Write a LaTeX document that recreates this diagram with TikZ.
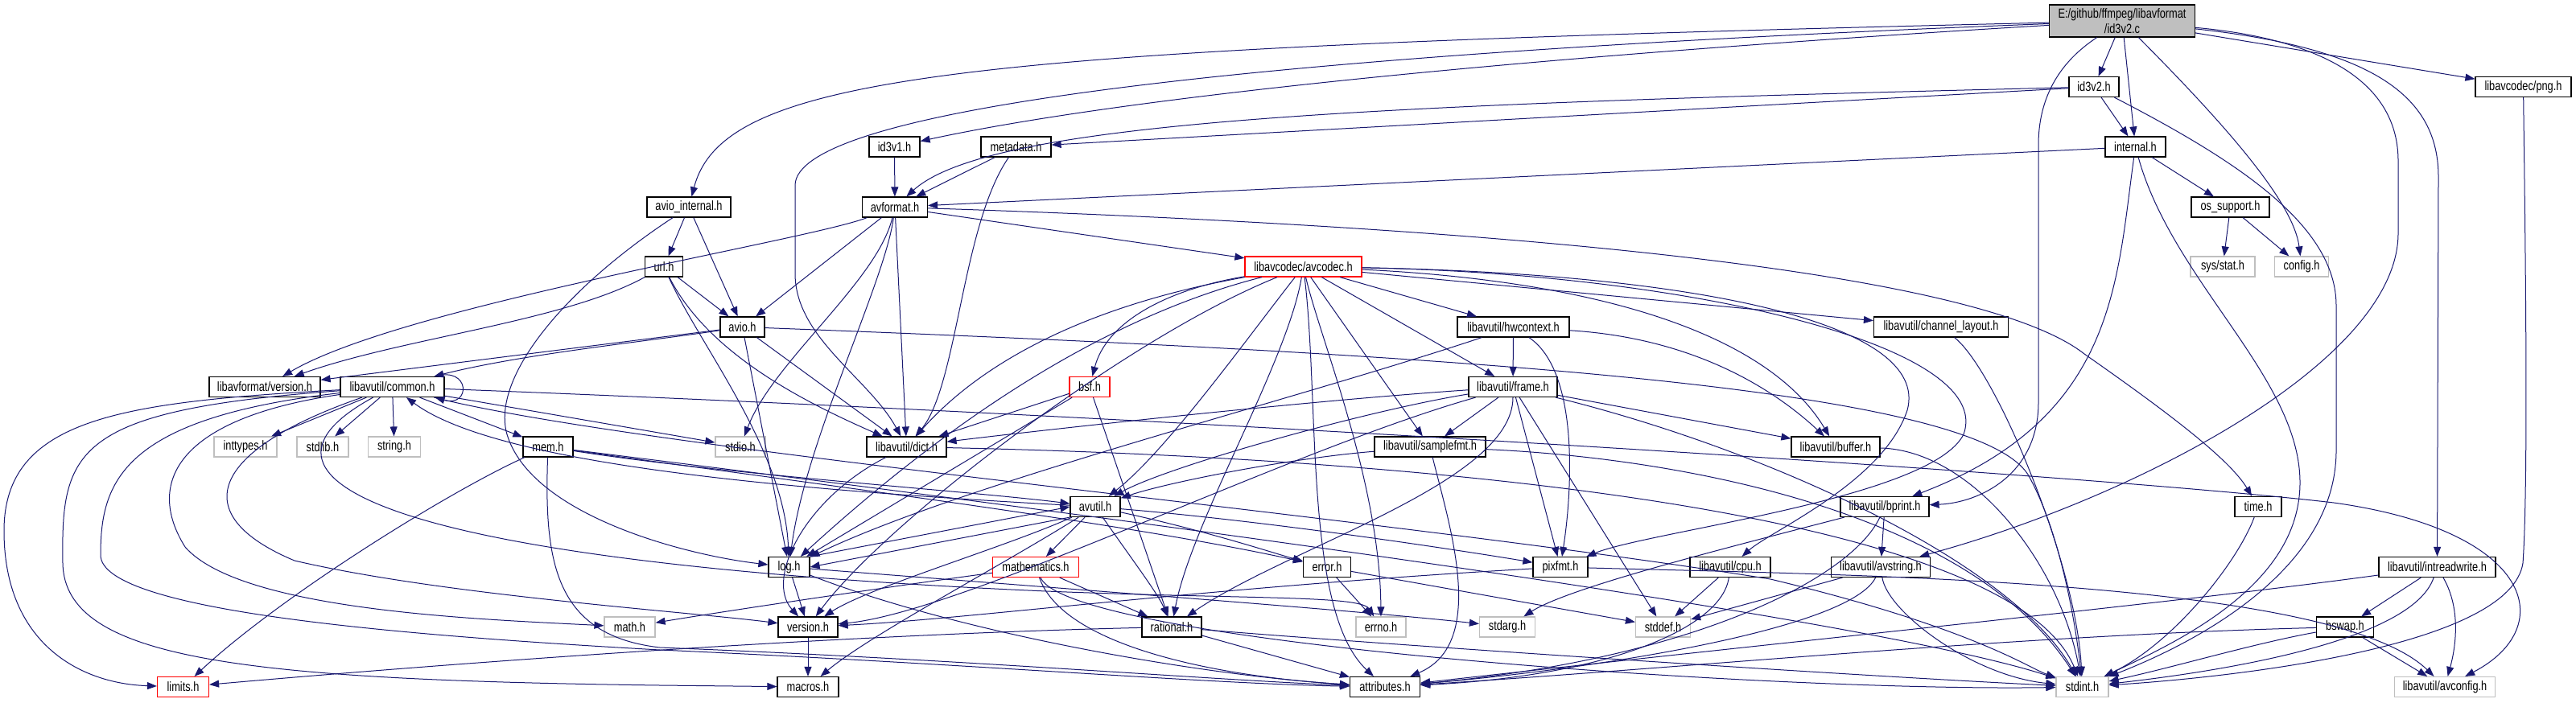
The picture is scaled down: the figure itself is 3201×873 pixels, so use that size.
\documentclass[tikz,border=0pt]{standalone}
\usepackage{fontspec}
\newfontfamily\nf[FakeStretch=0.78]{Liberation Sans}
\usetikzlibrary{arrows.meta}
\definecolor{edgeblue}{RGB}{25,25,112}
\definecolor{lgray}{RGB}{191,191,191}
\tikzset{
  bx/.style={draw=black, line width=1.2pt, fill=white, minimum height=25pt, inner sep=0pt, font=\nf\fontsize{16.4}{19}\selectfont},
  gbx/.style={bx, draw=lgray},
  rbx/.style={bx, draw=red},
  ed/.style={draw=edgeblue, line width=1pt, -{Triangle[length=12pt,width=9pt]}}
}
\begin{document}
\begin{tikzpicture}[x=1pt,y=-1pt]
\useasboundingbox[fill=white] (0,0) rectangle (3201,873);
% nodes
\node[bx, fill=lgray, minimum width=181, minimum height=40, align=center] (root) at (2637,26) {E:/github/ffmpeg/libavformat\\/id3v2.c};
\node[bx, minimum width=62] (id3v2h) at (2602,108) {id3v2.h};
\node[bx, minimum width=75] (internal) at (2653.5,182.5) {internal.h};
\node[bx, minimum width=97] (ossupport) at (2771.5,257.5) {os\_support.h};
\node[gbx, minimum width=80] (sysstat) at (2762,331.5) {sys/stat.h};
\node[gbx, minimum width=67] (config) at (2860,331.5) {config.h};
\node[bx, minimum width=119] (png) at (3135.5,108) {libavcodec/png.h};
\node[bx, minimum width=63] (id3v1) at (1111.5,182.5) {id3v1.h};
\node[bx, minimum width=87] (metadata) at (1262.5,182.5) {metadata.h};
\node[bx, minimum width=104] (aviointernal) at (856,257.5) {avio\_internal.h};
\node[bx, minimum width=81] (avformat) at (1112,257.5) {avformat.h};
\node[bx, minimum width=47] (url) at (825,331.5) {url.h};
\node[rbx, minimum width=145] (avcodec) at (1619.5,331.5) {libavcodec/avcodec.h};
\node[bx, minimum width=55] (avio) at (922.5,406.5) {avio.h};
\node[bx, minimum width=139] (hwcontext) at (1880.5,406.5) {libavutil/hwcontext.h};
\node[bx, minimum width=167] (chlayout) at (2412,406.5) {libavutil/channel\_layout.h};
\node[bx, minimum width=138] (lfversion) at (329,481) {libavformat/version.h};
\node[bx, minimum width=129] (common) at (487.5,481) {libavutil/common.h};
\node[rbx, minimum width=50] (bsf) at (1354,481) {bsf.h};
\node[bx, minimum width=110] (frame) at (1880,481) {libavutil/frame.h};
\node[gbx, minimum width=78] (inttypes) at (305,555.5) {inttypes.h};
\node[gbx, minimum width=64] (stdlib) at (401,555.5) {stdlib.h};
\node[gbx, minimum width=65] (string) at (490,555.5) {string.h};
\node[bx, minimum width=62] (mem) at (681,555.5) {mem.h};
\node[gbx, minimum width=62] (stdio) at (920,555.5) {stdio.h};
\node[bx, minimum width=99] (dict) at (1126.5,555.5) {libavutil/dict.h};
\node[bx, minimum width=138] (samplefmt) at (1777,555.5) {libavutil/samplefmt.h};
\node[bx, minimum width=110] (buffer) at (2281,555.5) {libavutil/buffer.h};
\node[bx, minimum width=62] (avutil) at (1361,630) {avutil.h};
\node[bx, minimum width=110] (bprint) at (2342,630) {libavutil/bprint.h};
\node[bx, minimum width=58] (timeh) at (2806,630) {time.h};
\node[bx, minimum width=51] (log) at (980.5,705) {log.h};
\node[rbx, minimum width=107] (mathematics) at (1287,705) {mathematics.h};
\node[bx, minimum width=59] (error) at (1649,705) {error.h};
\node[bx, minimum width=68] (pixfmt) at (1939,705) {pixfmt.h};
\node[bx, minimum width=100] (cpu) at (2150,705) {libavutil/cpu.h};
\node[bx, minimum width=123] (avstring) at (2337,705) {libavutil/avstring.h};
\node[bx, minimum width=145] (intreadwrite) at (3028.5,705) {libavutil/intreadwrite.h};
\node[gbx, minimum width=63] (math) at (782.5,779.5) {math.h};
\node[bx, minimum width=74] (version) at (1004,779.5) {version.h};
\node[bx, minimum width=74] (rational) at (1456,779.5) {rational.h};
\node[gbx, minimum width=62] (errno) at (1716,779.5) {errno.h};
\node[gbx, minimum width=69] (stdarg) at (1873,779.5) {stdarg.h};
\node[gbx, minimum width=68] (stddef) at (2066.5,779.5) {stddef.h};
\node[bx, minimum width=71] (bswap) at (2914,779.5) {bswap.h};
\node[rbx, minimum width=64] (limits) at (227.5,854) {limits.h};
\node[bx, minimum width=76] (macros) at (1004,854) {macros.h};
\node[bx, minimum width=87] (attributes) at (1721,854) {attributes.h};
\node[gbx, minimum width=65] (stdint) at (2587.5,854) {stdint.h};
\node[gbx, minimum width=125] (avconfig) at (3038,854) {libavutil/avconfig.h};

% root edges
\draw[ed] (root) -- (id3v2h);
\draw[ed] (root) -- (internal);
\draw[ed] (root) -- (png);
\draw[ed] (root) .. controls (2760,150) and (2850,250) .. (config);
\draw[ed] (root) .. controls (1200,60) and (900,90) .. (aviointernal);
\draw[ed] (root) .. controls (1500,70) and (990,140) .. (988,230) -- (988,340) .. controls (988,420) and (1080,470) .. (dict);
\draw[ed] (root) .. controls (1900,70) and (1400,120) .. (id3v1);
\draw[ed] (root) .. controls (2950,60) and (3030,120) .. (3030,220) -- (intreadwrite);
\draw[ed] (root) .. controls (2900,50) and (2980,110) .. (2980,200) -- (2980,290) .. controls (2980,450) and (2650,620) .. (avstring);
\draw[ed] (root) .. controls (2570,70) and (2533,110) .. (2533,180) -- (2533,500) .. controls (2533,590) and (2460,625) .. (bprint);
% id3v2.h
\draw[ed] (id3v2h) -- (internal);
\draw[ed] (id3v2h) .. controls (1700,130) and (1230,150) .. (avformat);
\draw[ed] (id3v2h) -- (metadata);
\draw[ed] (id3v2h) .. controls (2780,200) and (2903,280) .. (2903,380) -- (2903,560) .. controls (2903,720) and (2700,810) .. (stdint);
% internal.h
\draw[ed] (internal) -- (avformat);
\draw[ed] (internal) -- (ossupport);
\draw[ed] (internal) .. controls (2630,350) and (2630,520) .. (bprint);
\draw[ed] (internal) .. controls (2700,350) and (2858,470) .. (2858,600) .. controls (2858,730) and (2700,800) .. (stdint);
\draw[ed] (ossupport) -- (sysstat);
\draw[ed] (ossupport) -- (config);
\draw[ed] (png) .. controls (3138,300) and (3142,600) .. (3135,700) .. controls (3120,800) and (2800,840) .. (stdint);
\draw[ed] (id3v1) -- (avformat);
\draw[ed] (metadata) -- (avformat);
\draw[ed] (metadata) .. controls (1195,280) and (1190,480) .. (dict);
% avio_internal.h
\draw[ed] (aviointernal) -- (avio);
\draw[ed] (aviointernal) -- (url);
\draw[ed] (aviointernal) .. controls (700,360) and (610,470) .. (630,540) .. controls (660,640) and (850,690) .. (log);
% url.h
\draw[ed] (url) -- (avio);
\draw[ed] (url) .. controls (700,400) and (500,420) .. (lfversion);
\draw[ed] (url) .. controls (870,430) and (975,560) .. (log);
\draw[ed] (url) .. controls (880,440) and (1000,500) .. (dict);
% avformat.h
\draw[ed] (avformat) -- (avcodec);
\draw[ed] (avformat) -- (avio);
\draw[ed] (avformat) .. controls (1000,300) and (500,380) .. (lfversion);
\draw[ed] (avformat) .. controls (1090,350) and (960,450) .. (stdio);
\draw[ed] (avformat) -- (dict);
\draw[ed] (avformat) .. controls (1100,350) and (1000,550) .. (log);
\draw[ed] (avformat) .. controls (1800,280) and (2450,330) .. (2590,440) .. controls (2690,510) and (2770,570) .. (timeh);
% avio.h
\draw[ed] (avio) -- (lfversion);
\draw[ed] (avio) .. controls (800,425) and (650,440) .. (common);
\draw[ed] (avio) -- (dict);
\draw[ed] (avio) -- (log);
\draw[ed] (avio) .. controls (1800,440) and (2450,480) .. (2520,590) .. controls (2560,660) and (2580,780) .. (stdint);
% common.h
\draw[ed] ([xshift=-12]common.north east) .. controls (585,455) and (585,507) .. ([xshift=-12]common.south east);
\draw[ed] (common) -- (inttypes);
\draw[ed] (common) -- (stdlib);
\draw[ed] (common) -- (string);
\draw[ed] (common) -- (mem);
\draw[ed] (common) -- (stdio);
\draw[ed] (common) .. controls (150,500) and (5,520) .. (5,660) .. controls (5,800) and (100,850) .. (limits);
\draw[ed] (common) .. controls (90,510) and (76,560) .. (78,700) .. controls (80,820) and (300,845) .. (820,852) -- (macros);
\draw[ed] (common) .. controls (150,520) and (125,600) .. (125,690) .. controls (125,760) and (500,790) .. (820,808) .. controls (1200,825) and (1500,850) .. (attributes);
\draw[ed] (common) .. controls (220,520) and (180,600) .. (230,680) .. controls (300,760) and (600,770) .. (math);
\draw[ed] (common) .. controls (260,560) and (230,640) .. (366,697) .. controls (550,740) and (850,760) .. (version);
\draw[ed] (common) .. controls (270,600) and (500,700) .. (1300,735) .. controls (1550,745) and (1690,740) .. (errno);
\draw[ed] (common) .. controls (800,560) and (1700,640) .. (2200,720) .. controls (2450,780) and (2520,830) .. (stdint);
\draw[ed] (common) .. controls (1500,520) and (2600,590) .. (2900,625) .. controls (3150,660) and (3180,780) .. (avconfig);
% mem.h
\draw[ed] (mem) .. controls (560,610) and (350,740) .. (limits);
\draw[ed] (mem) .. controls (676,700) and (690,790) .. (820,805) .. controls (1200,820) and (1500,845) .. (attributes);
\draw[ed] (mem) .. controls (900,590) and (1200,610) .. (avutil);
\draw[ed] (mem) .. controls (1000,600) and (1400,650) .. (error);
\draw[ed] (mem) .. controls (1200,620) and (2300,760) .. (stdint);
% dict.h
\draw[ed] (dict) .. controls (1000,620) and (950,720) .. (version);
\draw[ed] (dict) .. controls (1800,570) and (2500,640) .. (stdint);
% log.h
\draw[ed] (log) -- (version);
\draw[ed] (log.north east) -- (avutil.west);
\draw[ed] (avutil.south west) -- (log.east);
\draw[ed] (log) .. controls (1300,730) and (1700,760) .. (stdarg);
\draw[ed] (log) .. controls (1200,790) and (1500,840) .. (attributes);
% avutil.h
\draw[ed] (avutil) .. controls (1000,610) and (620,580) .. (common);
\draw[ed] (avutil) -- (mathematics);
\draw[ed] (avutil) .. controls (1410,700) and (1440,740) .. (rational);
\draw[ed] (avutil) .. controls (1250,680) and (1080,730) .. (version);
\draw[ed] (avutil) .. controls (1250,700) and (1080,790) .. (macros);
\draw[ed] (avutil) .. controls (1500,660) and (1590,690) .. (error);
\draw[ed] (avutil) .. controls (1600,650) and (1850,690) .. (pixfmt);
% mathematics.h
\draw[ed] (mathematics) .. controls (1100,730) and (900,760) .. (math);
\draw[ed] (mathematics) -- (rational);
\draw[ed] (mathematics) .. controls (1320,800) and (1500,840) .. (attributes);
\draw[ed] (mathematics) .. controls (1330,800) and (2200,860) .. (stdint);
% rational.h
\draw[ed] (rational) .. controls (1000,790) and (500,830) .. (limits);
\draw[ed] (rational) -- (attributes);
\draw[ed] (rational) .. controls (1700,800) and (2300,840) .. (stdint);
\draw[ed] (version) -- (macros);
% error.h
\draw[ed] (error) -- (errno);
\draw[ed] (error) -- (stddef);
% pixfmt.h
\draw[ed] (pixfmt) .. controls (1500,730) and (1200,770) .. (version);
\draw[ed] (pixfmt) .. controls (2300,715) and (2900,720) .. (avconfig);
% frame.h
\draw[ed] (frame) -- (samplefmt);
\draw[ed] (frame) -- (pixfmt);
\draw[ed] (frame) -- (stddef);
\draw[ed] (frame) -- (buffer);
\draw[ed] (frame) .. controls (1600,500) and (1250,540) .. (dict);
\draw[ed] (frame) .. controls (1700,510) and (1450,580) .. (avutil);
\draw[ed] (frame) .. controls (1880,600) and (1600,680) .. (rational);
\draw[ed] (frame) .. controls (1600,560) and (1200,760) .. (version);
\draw[ed] (frame) .. controls (2200,560) and (2500,700) .. (stdint);
% samplefmt.h
\draw[ed] (samplefmt) .. controls (1600,570) and (1450,600) .. (avutil);
\draw[ed] (samplefmt) .. controls (1800,650) and (1850,800) .. (attributes);
\draw[ed] (samplefmt) .. controls (2100,570) and (2450,640) .. (stdint);
% hwcontext.h
\draw[ed] (hwcontext) -- (frame);
\draw[ed] (hwcontext) .. controls (2100,420) and (2200,480) .. (buffer);
\draw[ed] (hwcontext) .. controls (1960,460) and (1955,600) .. (pixfmt);
\draw[ed] (hwcontext) .. controls (1600,500) and (1200,600) .. (log);
% avcodec.h
\draw[ed] (avcodec) -- (hwcontext);
\draw[ed] (avcodec) -- (chlayout);
\draw[ed] (avcodec) -- (frame);
\draw[ed] (avcodec) -- (samplefmt);
\draw[ed] (avcodec) .. controls (1450,360) and (1375,400) .. (bsf);
\draw[ed] (avcodec) .. controls (1350,380) and (1220,450) .. (dict);
\draw[ed] (avcodec) .. controls (1350,400) and (1150,550) .. (log);
\draw[ed] (avcodec) .. controls (1400,420) and (1100,650) .. (version);
\draw[ed] (avcodec) .. controls (1550,420) and (1450,560) .. (avutil);
\draw[ed] (avcodec) .. controls (1640,420) and (1715,600) .. (errno);
\draw[ed] (avcodec) .. controls (1600,450) and (1480,650) .. (rational);
\draw[ed] (avcodec) .. controls (1640,500) and (1620,760) .. (attributes);
\draw[ed] (avcodec) .. controls (2000,350) and (2200,420) .. (buffer);
\draw[ed] (avcodec) .. controls (2100,340) and (2480,430) .. (2440,540) .. controls (2400,620) and (2050,660) .. (pixfmt);
\draw[ed] (avcodec) .. controls (2100,340) and (2400,400) .. (2370,510) .. controls (2340,600) and (2200,660) .. (cpu);
% bsf.h
\draw[ed] (bsf) -- (dict);
\draw[ed] (bsf) -- (log);
\draw[ed] (bsf) -- (rational);
% others
\draw[ed] (buffer) .. controls (2450,560) and (2560,700) .. (stdint);
\draw[ed] (chlayout) .. controls (2480,460) and (2580,700) .. (stdint);
\draw[ed] (bprint) -- (avstring);
\draw[ed] (bprint) .. controls (2150,680) and (1950,730) .. (stdarg);
\draw[ed] (bprint) .. controls (2300,720) and (2100,820) .. (attributes);
\draw[ed] (avstring) -- (stddef);
\draw[ed] (avstring) .. controls (2345,760) and (2450,840) .. (stdint);
\draw[ed] (avstring) .. controls (2300,780) and (2000,830) .. (attributes);
\draw[ed] (cpu) -- (stddef);
\draw[ed] (cpu) .. controls (2140,780) and (2000,840) .. (attributes);
\draw[ed] (intreadwrite) -- (bswap);
\draw[ed] (intreadwrite) .. controls (3000,790) and (2800,830) .. (stdint);
\draw[ed] (intreadwrite) .. controls (3060,760) and (3050,810) .. (avconfig);
\draw[ed] (intreadwrite) .. controls (2700,750) and (2200,800) .. (attributes);
\draw[ed] (bswap) .. controls (2800,800) and (2700,830) .. (stdint);
\draw[ed] (bswap) -- (avconfig);
\draw[ed] (bswap) .. controls (2500,790) and (2100,830) .. (attributes);
\draw[ed] (timeh) .. controls (2780,700) and (2700,800) .. (stdint);
\end{tikzpicture}
\end{document}
